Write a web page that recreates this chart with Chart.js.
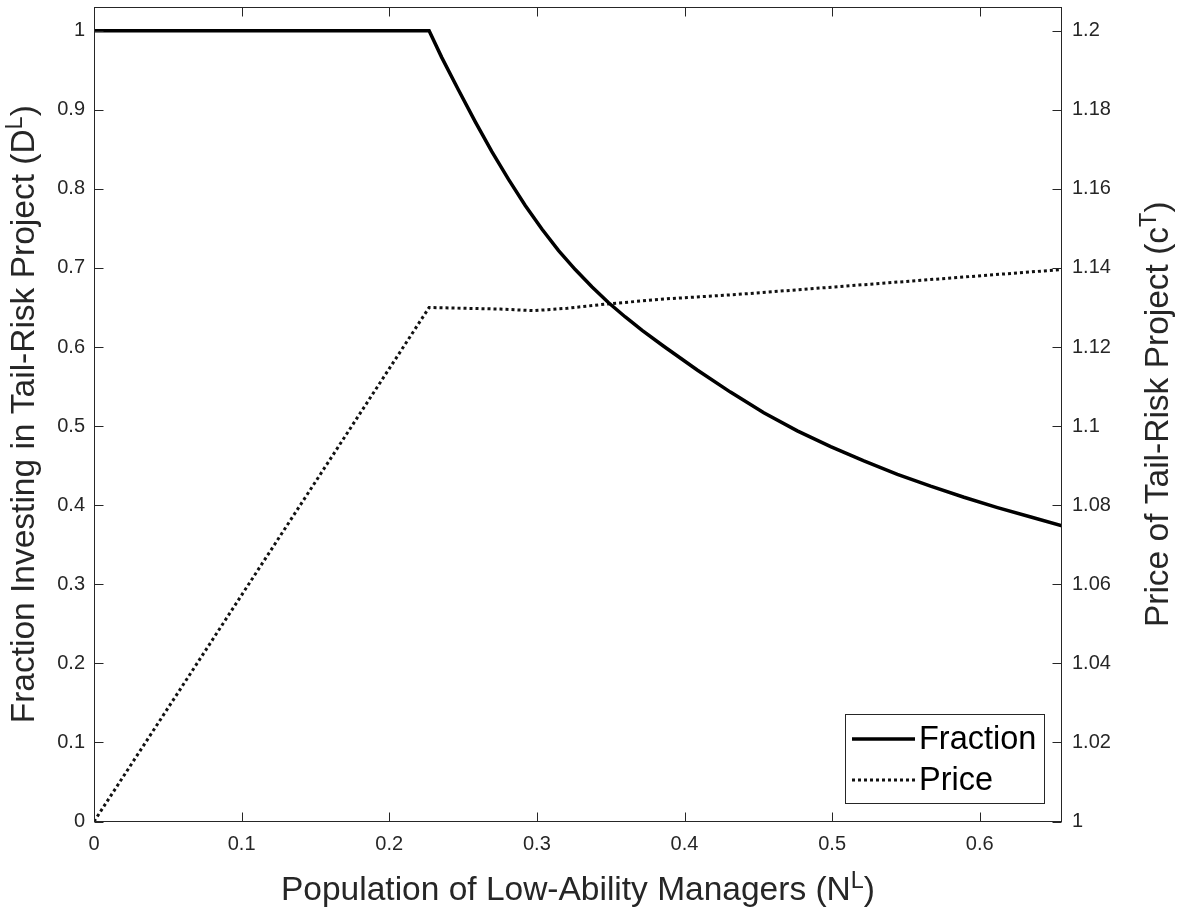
<!DOCTYPE html>
<html>
<head>
<meta charset="utf-8">
<script src="https://cdn.jsdelivr.net/npm/chart.js@4"></script>
<style>
  html, body { margin: 0; padding: 0; background: #fff; }
  #wrap { width: 1178px; height: 913px; }
</style>
</head>
<body>
<div id="wrap"><canvas id="chart" width="1178" height="913"></canvas></div>
<script>
// Data
const fractionX = [0, 0.2270, 0.2356, 0.2469, 0.2582, 0.2695, 0.2808, 0.2921, 0.3035, 0.3147, 0.3260, 0.3374, 0.3486, 0.3599, 0.3713,
  0.3859, 0.4086, 0.4311, 0.4537, 0.4764, 0.4990, 0.5215, 0.5442, 0.5667, 0.5893, 0.6120, 0.6346, 0.6557];
const fractionY = [1, 1, 0.966, 0.925, 0.885, 0.847, 0.812, 0.779, 0.749, 0.722, 0.698, 0.676, 0.656, 0.638, 0.621,
  0.601, 0.571, 0.543, 0.517, 0.494, 0.474, 0.456, 0.439, 0.424, 0.410, 0.397, 0.385, 0.374];

const priceX = [0, 0.2270, 0.2753, 0.2978, 0.3204, 0.3475, 0.3882, 0.4357, 0.5329, 0.6557];
const priceY = [1.0, 1.1300, 1.1296, 1.1292, 1.1298, 1.1309, 1.1322, 1.1333, 1.1361, 1.1396];

const xTicks = [0, 0.1, 0.2, 0.3, 0.4, 0.5, 0.6];
const leftTicks = [0, 0.1, 0.2, 0.3, 0.4, 0.5, 0.6, 0.7, 0.8, 0.9, 1];
const rightTicks = [1, 1.02, 1.04, 1.06, 1.08, 1.1, 1.12, 1.14, 1.16, 1.18, 1.2];

const seriesLabels = ['Fraction', 'Price'];
const xTitle = [['Population of Low-Ability Managers (N', false], ['L', true], [')', false]];
const leftTitle = [['Fraction Investing in Tail-Risk Project (D', false], ['L', true], [')', false]];
const rightTitle = [['Price of Tail-Risk Project (c', false], ['T', true], [')', false]];

const fontFamily = '"Liberation Sans", Arial, Helvetica, sans-serif';
const axisColor = '#262626';
const tickFont = 20;
const titleFont = 33.5;
const legendFont = 32.5;
const tickLen = 9;

const fmt = v => String(+v.toFixed(2));
const xy = (xs, ys) => xs.map((x, i) => ({ x: x, y: ys[i] }));

// draw text with superscripts centred on (0,0), baseline at 0
function drawRich(ctx, parts, size) {
  let total = 0;
  parts.forEach(([t, sup]) => {
    ctx.font = (sup ? size * 0.7 : size) + 'px ' + fontFamily;
    total += ctx.measureText(t).width;
  });
  let x = -total / 2;
  ctx.textAlign = 'left';
  ctx.textBaseline = 'alphabetic';
  parts.forEach(([t, sup]) => {
    ctx.font = (sup ? size * 0.7 : size) + 'px ' + fontFamily;
    ctx.fillText(t, x, sup ? -size * 0.37 : 0);
    x += ctx.measureText(t).width;
  });
}

const matlabAxes = {
  id: 'matlabAxes',
  afterDraw(chart) {
    const { ctx, chartArea: a, scales } = chart;
    const L = Math.round(a.left) + 0.5, R = Math.round(a.right) - 0.5;
    const T = Math.round(a.top) + 0.5, B = Math.round(a.bottom) - 0.5;
    ctx.save();
    ctx.strokeStyle = axisColor;
    ctx.lineWidth = 1;
    ctx.strokeRect(L, T, R - L, B - T);
    ctx.beginPath();
    scales.x.ticks.forEach(t => {
      const p = Math.round(scales.x.getPixelForValue(t.value)) + 0.5;
      ctx.moveTo(p, B); ctx.lineTo(p, B - tickLen);
      ctx.moveTo(p, T); ctx.lineTo(p, T + tickLen);
    });
    scales.y.ticks.forEach(t => {
      const p = Math.round(scales.y.getPixelForValue(t.value)) + 0.5;
      ctx.moveTo(L, p); ctx.lineTo(L + tickLen, p);
    });
    scales.y1.ticks.forEach(t => {
      const p = Math.round(scales.y1.getPixelForValue(t.value)) + 0.5;
      ctx.moveTo(R, p); ctx.lineTo(R - tickLen, p);
    });
    ctx.stroke();

    // axis titles
    ctx.fillStyle = axisColor;
    ctx.save();
    ctx.translate((a.left + a.right) / 2, 900);
    drawRich(ctx, xTitle, titleFont);
    ctx.restore();
    const cy = (a.top + a.bottom) / 2;
    ctx.save();
    ctx.translate(34, cy);
    ctx.rotate(-Math.PI / 2);
    drawRich(ctx, leftTitle, titleFont);
    ctx.restore();
    ctx.save();
    ctx.translate(1168, cy);
    ctx.rotate(-Math.PI / 2);
    drawRich(ctx, rightTitle, titleFont);
    ctx.restore();

    // legend
    const bx = 845.5, by = 714.5, bw = 199, bh = 89;
    ctx.fillStyle = '#fff';
    ctx.fillRect(bx, by, bw, bh);
    ctx.strokeStyle = axisColor;
    ctx.lineWidth = 1;
    ctx.strokeRect(bx, by, bw, bh);
    const rows = [739, 780];
    chart.data.datasets.forEach((ds, i) => {
      ctx.save();
      ctx.strokeStyle = ds.borderColor;
      ctx.lineWidth = ds.borderWidth;
      ctx.setLineDash(ds.borderDash || []);
      ctx.beginPath();
      ctx.moveTo(852, rows[i]);
      ctx.lineTo(915, rows[i]);
      ctx.stroke();
      ctx.restore();
      ctx.fillStyle = '#000';
      ctx.font = legendFont + 'px ' + fontFamily;
      ctx.textAlign = 'left';
      ctx.textBaseline = 'middle';
      ctx.fillText(ds.label, 919, rows[i] + 1);
    });
    ctx.restore();
  }
};

const noPad = s => { s.paddingTop = 0; s.paddingBottom = 0; s.paddingLeft = 0; s.paddingRight = 0; };

const ctx = document.getElementById('chart').getContext('2d');
const chart = new Chart(ctx, {
  type: 'line',
  data: {
    datasets: [{
      label: seriesLabels[0],
      data: xy(fractionX, fractionY),
      yAxisID: 'y',
      borderColor: '#000',
      borderWidth: 3.5,
      pointRadius: 0,
      tension: 0,
      fill: false
    }, {
      label: seriesLabels[1],
      data: xy(priceX, priceY),
      yAxisID: 'y1',
      borderColor: '#111',
      borderWidth: 3,
      borderDash: [3, 3],
      pointRadius: 0,
      tension: 0,
      fill: false
    }]
  },
  options: {
    responsive: false,
    animation: false,
    devicePixelRatio: 1,
    layout: { padding: { top: 7, left: 0, right: 0, bottom: 0 } },
    plugins: { legend: { display: false }, tooltip: { enabled: false } },
    scales: {
      x: {
        type: 'linear',
        min: 0,
        max: 0.6557,
        grid: { display: false, drawTicks: false },
        border: { display: false },
        ticks: { color: axisColor, font: { family: fontFamily, size: tickFont }, padding: 11, maxRotation: 0, autoSkip: false, callback: v => fmt(v) },
        afterBuildTicks: s => { s.ticks = xTicks.map(v => ({ value: v })); },
        afterFit: s => { s.height = 91.5; noPad(s); }
      },
      y: {
        type: 'linear',
        position: 'left',
        min: 0,
        max: 1.03,
        grid: { display: false, drawTicks: false },
        border: { display: false },
        ticks: { color: axisColor, font: { family: fontFamily, size: tickFont }, padding: 9, autoSkip: false, callback: v => fmt(v) },
        afterBuildTicks: s => { s.ticks = leftTicks.map(v => ({ value: v })); },
        afterFit: s => { s.width = 94; noPad(s); }
      },
      y1: {
        type: 'linear',
        position: 'right',
        min: 1,
        max: 1.206,
        grid: { display: false, drawTicks: false },
        border: { display: false },
        ticks: { color: axisColor, font: { family: fontFamily, size: tickFont }, padding: 10, autoSkip: false, callback: v => fmt(v) },
        afterBuildTicks: s => { s.ticks = rightTicks.map(v => ({ value: v })); },
        afterFit: s => { s.width = 116; noPad(s); }
      }
    }
  },
  plugins: [matlabAxes]
});
</script>
</body>
</html>
